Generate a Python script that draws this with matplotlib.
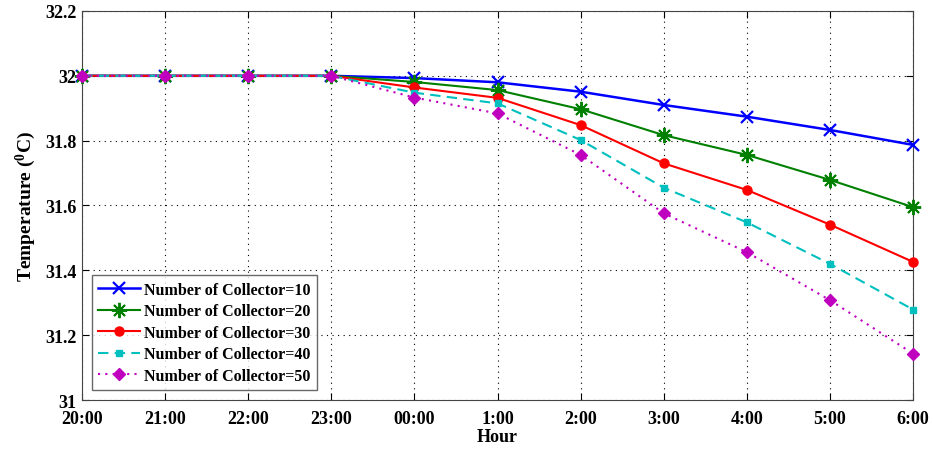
import numpy as np
import matplotlib.pyplot as plt

plt.rcParams['font.family'] = ['Liberation Serif', 'DejaVu Serif']
plt.rcParams['font.weight'] = 'bold'
plt.rcParams['mathtext.fontset'] = 'custom'
plt.rcParams['mathtext.rm'] = 'Liberation Serif:bold'
plt.rcParams['mathtext.it'] = 'Liberation Serif:bold'
plt.rcParams['mathtext.bf'] = 'Liberation Serif:bold'

hours = ['20:00', '21:00', '22:00', '23:00', '00:00', '1:00',
         '2:00', '3:00', '4:00', '5:00', '6:00']

temp_n10 = [32, 32, 32, 32, 31.993, 31.980, 31.951, 31.910, 31.874, 31.833, 31.787]
temp_n20 = [32, 32, 32, 32, 31.981, 31.956, 31.897, 31.817, 31.756, 31.679, 31.595]
temp_n30 = [32, 32, 32, 32, 31.964, 31.932, 31.848, 31.730, 31.648, 31.541, 31.426]
temp_n40 = [32, 32, 32, 32, 31.948, 31.915, 31.802, 31.655, 31.548, 31.420, 31.279]
temp_n50 = [32, 32, 32, 32, 31.933, 31.884, 31.756, 31.576, 31.456, 31.308, 31.143]

labels = ['Number of Collector=10', 'Number of Collector=20', 'Number of Collector=30',
          'Number of Collector=40', 'Number of Collector=50']

fig = plt.figure(figsize=(9.33, 4.52), dpi=100)
ax = fig.add_axes([0.0879, 0.1128, 0.8907, 0.8607])

x = np.arange(len(hours))
ax.plot(x, temp_n10, color=(0, 0, 1), marker='x', ms=8, mew=1.6, lw=1.8,
        label=labels[0], clip_on=False, zorder=3)
ax.plot(x, temp_n20, color=(0, 0.5, 0), marker=(8, 2, 0), ms=11, mew=1.4, lw=1.5,
        label=labels[1], clip_on=False, zorder=3)
ax.plot(x, temp_n30, color=(1, 0, 0), marker='o', ms=6.5, lw=1.5,
        label=labels[2], clip_on=False, zorder=3)
ax.plot(x, temp_n40, color=(0, 0.75, 0.75), marker='s', ms=5, lw=1.5, ls=(0, (5, 3)),
        label=labels[3], clip_on=False, zorder=3)
ax.plot(x, temp_n50, color=(0.75, 0, 0.75), marker='D', ms=6.5, lw=1.5, ls=(0, (1, 2.5)),
        label=labels[4], clip_on=False, zorder=3)

ax.set_xlim(0, 10)
ax.set_ylim(31, 32.2)
ax.set_xticks(x)
ax.set_xticklabels(hours)
ax.set_yticks([31, 31.2, 31.4, 31.6, 31.8, 32, 32.2])
ax.set_yticklabels(['31', '31.2', '31.4', '31.6', '31.8', '32', '32.2'])
ax.tick_params(direction='in', top=True, right=True, labelsize=13, length=5)
ax.tick_params(axis='x', pad=7)
ax.tick_params(axis='y', pad=4)
ax.grid(True, color='black', ls=(0, (1, 4)), lw=0.8)
for sp in ax.spines.values():
    sp.set_color('#444444')

ax.set_xlabel('Hour', fontsize=13, fontweight='bold', labelpad=1)
ax.set_ylabel(r'Temperature ($^{0}$C)', fontsize=14, fontweight='bold', labelpad=5)

leg = ax.legend(loc='lower left', fontsize=11.5, frameon=True, fancybox=False,
                edgecolor='#444444', borderaxespad=0.6, handlelength=2.6,
                labelspacing=0.35, handletextpad=0.3, borderpad=0.4)
leg.get_frame().set_linewidth(1.0)

fig.savefig('out.png', dpi=100, facecolor='white')
